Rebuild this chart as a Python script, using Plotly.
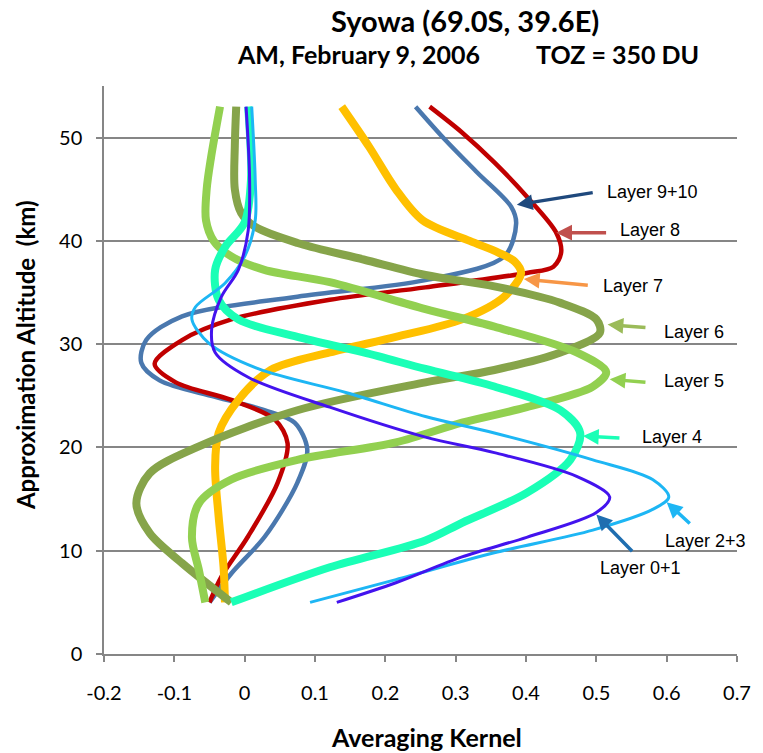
import plotly.graph_objects as go

# ---- data (averaging kernel value, altitude km) ----
ak_l910 = [-0.050, -0.019, 0.029, 0.075, 0.089, 0.071, 0.029, -0.042, -0.121, -0.147, -0.140, -0.089, 0.075, 0.257, 0.369, 0.386, 0.379, 0.331, 0.285, 0.243]
alt_l910 = [5.0, 7.8, 11.4, 16.6, 19.8, 22.4, 23.6, 24.9, 26.5, 28.2, 30.4, 32.7, 34.6, 36.2, 38.5, 41.7, 43.3, 46.6, 49.8, 53.0]

ak_l8 = [-0.050, -0.033, 0.005, 0.047, 0.061, 0.043, -0.019, -0.098, -0.128, -0.089, -0.019, 0.121, 0.257, 0.401, 0.439, 0.450, 0.443, 0.401, 0.355, 0.309, 0.263]
alt_l8 = [5.0, 7.5, 11.4, 16.6, 20.4, 22.7, 24.6, 26.3, 28.1, 30.4, 32.4, 34.3, 35.5, 36.9, 37.5, 38.9, 40.8, 44.3, 47.6, 50.5, 53.0]

ak_l7 = [-0.028, -0.030, -0.037, -0.042, -0.037, -0.009, 0.037, 0.121, 0.215, 0.309, 0.369, 0.393, 0.384, 0.360, 0.320, 0.253, 0.215, 0.177, 0.138]
alt_l7 = [5.0, 8.4, 13.3, 18.1, 21.4, 24.6, 27.5, 29.2, 30.7, 32.4, 34.6, 36.9, 38.0, 38.9, 40.0, 42.0, 45.0, 49.1, 53.0]

ak_l6 = [-0.019, -0.089, -0.135, -0.154, -0.135, -0.065, 0.075, 0.257, 0.355, 0.449, 0.505, 0.500, 0.449, 0.355, 0.257, 0.169, 0.075, 0.014, -0.005, -0.014, -0.014, -0.012]
alt_l6 = [5.0, 8.8, 11.7, 14.6, 17.5, 20.1, 23.6, 26.3, 27.5, 29.2, 31.1, 32.4, 34.0, 35.6, 36.7, 38.2, 39.8, 41.4, 42.7, 45.0, 49.2, 53.0]

ak_l5 = [-0.056, -0.065, -0.075, -0.065, -0.019, 0.075, 0.215, 0.309, 0.401, 0.495, 0.514, 0.472, 0.355, 0.257, 0.121, 0.028, -0.019, -0.044, -0.055, -0.054, -0.048, -0.035]
alt_l5 = [5.0, 8.1, 11.3, 14.6, 16.9, 18.8, 20.5, 22.4, 23.9, 25.9, 27.3, 29.2, 31.7, 33.4, 36.0, 37.2, 38.5, 40.0, 42.0, 45.0, 48.0, 53.0]

ak_l4 = [-0.019, 0.121, 0.257, 0.309, 0.401, 0.463, 0.477, 0.449, 0.355, 0.257, 0.169, 0.075, -0.009, -0.037, -0.042, -0.028, 0.000, 0.009, 0.005]
alt_l4 = [5.0, 8.4, 11.0, 12.7, 15.6, 18.8, 21.4, 23.6, 25.9, 27.6, 29.2, 30.7, 32.4, 34.3, 37.2, 39.4, 41.8, 45.9, 53.0]

ak_l23 = [0.093, 0.215, 0.355, 0.495, 0.580, 0.603, 0.580, 0.495, 0.355, 0.257, 0.145, 0.020, -0.051, -0.075, -0.070, -0.028, 0.000, 0.015, 0.015, 0.010]
alt_l23 = [5.0, 7.2, 9.8, 12.0, 14.0, 15.2, 16.9, 18.8, 21.4, 23.0, 25.3, 27.6, 30.1, 32.4, 33.6, 35.9, 38.5, 42.0, 45.9, 53.0]

ak_l01 = [0.131, 0.215, 0.309, 0.401, 0.500, 0.519, 0.472, 0.355, 0.257, 0.121, 0.005, -0.042, -0.047, -0.033, -0.009, 0.005, 0.007, 0.002]
alt_l01 = [5.0, 6.9, 9.4, 11.3, 13.7, 15.2, 17.2, 19.5, 21.0, 23.9, 26.8, 29.2, 31.4, 34.6, 37.2, 41.0, 46.0, 53.0]

x_tick_vals = [-0.2, -0.1, 0, 0.1, 0.2, 0.3, 0.4, 0.5, 0.6, 0.7]
x_tick_text = ["-0.2", "-0.1", "0", "0.1", "0.2", "0.3", "0.4", "0.5", "0.6", "0.7"]
y_tick_vals = [0, 10, 20, 30, 40, 50]

series = [
    ("Layer 9+10", ak_l910, alt_l910, "#4A78AE", 4.5),
    ("Layer 8", ak_l8, alt_l8, "#C00000", 4.5),
    ("Layer 7", ak_l7, alt_l7, "#FFC000", 8),
    ("Layer 6", ak_l6, alt_l6, "#86A44A", 8),
    ("Layer 5", ak_l5, alt_l5, "#92D050", 8),
    ("Layer 4", ak_l4, alt_l4, "#1AFFB6", 8),
    ("Layer 2+3", ak_l23, alt_l23, "#1DB6F4", 3),
    ("Layer 0+1", ak_l01, alt_l01, "#4313EE", 3),
]

FONT = "Lato"
fig = go.Figure()
for name, xs, ys, col, w in series:
    fig.add_trace(go.Scatter(x=xs, y=ys, mode="lines", name=name,
                             line=dict(color=col, width=w, shape="spline", smoothing=0.9),
                             showlegend=False, hoverinfo="skip"))

# label annotations: (text, text_x, text_y, tail_x, tail_y, head_x, head_y, arrow colour)
labels = [
    ("Layer 9+10", 0.513, 44.7, 0.497, 44.7, 0.387, 43.5, "#1F497D"),
    ("Layer 8", 0.531, 41.1, 0.516, 40.8, 0.443, 40.8, "#C0504D"),
    ("Layer 7", 0.506, 35.6, 0.490, 35.7, 0.397, 36.3, "#F79646"),
    ("Layer 6", 0.593, 31.2, 0.572, 31.6, 0.516, 31.9, "#9BBB59"),
    ("Layer 5", 0.593, 26.4, 0.572, 26.3, 0.519, 26.6, "#92D050"),
    ("Layer 4", 0.562, 21.0, 0.535, 20.9, 0.481, 21.1, "#1AFFB6"),
    ("Layer 2+3", 0.595, 10.9, 0.635, 12.5, 0.600, 14.7, "#1DB6F4"),
    ("Layer 0+1", 0.503, 8.3, 0.553, 9.8, 0.500, 13.5, "#1F6EB0"),
]
for text, tx, ty, ax, ay, hx, hy, col in labels:
    fig.add_annotation(x=hx, y=hy, ax=ax, ay=ay, xref="x", yref="y", axref="x", ayref="y",
                       text="", showarrow=True, arrowhead=2, arrowsize=0.9, arrowwidth=3.5,
                       arrowcolor=col)
    fig.add_annotation(x=tx, y=ty, xref="x", yref="y", text=text, showarrow=False,
                       xanchor="left", yanchor="middle",
                       font=dict(family="Liberation Sans, Arial", size=18, color="#000000"))

# titles
def paper_text(x, y, text, size, angle=0):
    fig.add_annotation(x=x, y=y, xref="paper", yref="paper", text=text, textangle=angle,
                       xanchor="center", yanchor="middle", showarrow=False,
                       font=dict(family=FONT, size=size, color="#000"))

paper_text(0.570, 1.116, "<b>Syowa (69.0S, 39.6E)</b>", 29)
paper_text(0.402, 1.056, "<b>AM, February 9, 2006</b>", 25)
paper_text(0.812, 1.056, "<b>TOZ = 350 DU</b>", 25)
paper_text(0.51, -0.146, "<b>Averaging Kernel</b>", 25)
paper_text(-0.125, 0.526, "<b>Approximation Altitude  (km)</b>", 24, angle=-90)

fig.update_xaxes(range=[-0.2, 0.7], tickvals=x_tick_vals, ticktext=x_tick_text,
                 showgrid=False, zeroline=False, showline=True, linecolor="#868686", linewidth=1.5,
                 ticks="outside", ticklen=6, tickwidth=1.5, tickcolor="#868686",
                 ticklabelstandoff=14,
                 tickfont=dict(family=FONT, size=20, color="#000"))
fig.update_yaxes(range=[0, 55], tickvals=y_tick_vals,
                 showgrid=True, gridcolor="#868686", gridwidth=1.5, zeroline=False,
                 showline=True, linecolor="#868686", linewidth=1.5,
                 ticks="outside", ticklen=6, tickwidth=1.5, tickcolor="#868686",
                 ticklabelstandoff=10,
                 tickfont=dict(family=FONT, size=20, color="#000"))

fig.update_layout(width=763, height=753, margin=dict(l=104, r=17, t=86, b=99),
                  plot_bgcolor="#FFFFFF", paper_bgcolor="#FFFFFF")
fig.write_html("out.html")
